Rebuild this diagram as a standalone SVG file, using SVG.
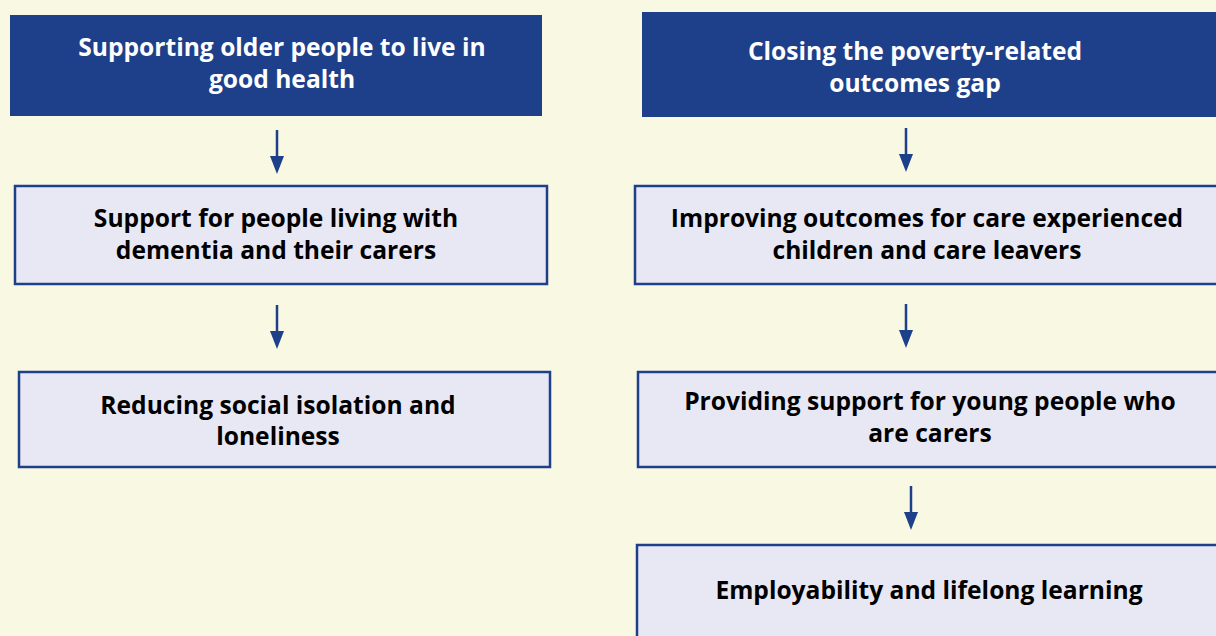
<svg xmlns="http://www.w3.org/2000/svg" width="1216" height="636" viewBox="0 0 1216 636">
<defs>
<style>
.bg{fill:#F9F8E2}
.hdr{fill:#1E3F8A}
.box{fill:#E8E8F5;stroke:#1E3F8A;stroke-width:2.5}
.ht{fill:#FFFFFF;font-family:"Open Sans","Liberation Sans",sans-serif;font-weight:700;font-size:24.6px;text-anchor:middle}
.bt{fill:#000000;font-family:"Open Sans","Liberation Sans",sans-serif;font-weight:700;font-size:24.6px;text-anchor:middle}
.ln{stroke:#1E3F8A;stroke-width:2.5}
.hd{fill:#1E3F8A}
</style>
</defs>
<rect class="bg" x="0" y="0" width="1216" height="636"/>
<g id="connectors">
<line class="ln" x1="277" y1="130" x2="277" y2="156"/>
<path class="hd" d="M270,156 L284,156 L277,174 Z"/>
<line class="ln" x1="277" y1="305" x2="277" y2="331"/>
<path class="hd" d="M270,331 L284,331 L277,349 Z"/>
<line class="ln" x1="906" y1="128" x2="906" y2="154"/>
<path class="hd" d="M899,154 L913,154 L906,172 Z"/>
<line class="ln" x1="906" y1="304" x2="906" y2="330"/>
<path class="hd" d="M899,330 L913,330 L906,348 Z"/>
<line class="ln" x1="911" y1="486" x2="911" y2="512"/>
<path class="hd" d="M904,512 L918,512 L911,530 Z"/>
</g>
<g id="n1">
<rect class="hdr" x="10" y="15" width="532" height="101"/>
<text class="ht" x="282" y="56">Supporting older people to live in</text>
<text class="ht" x="282" y="88">good health</text>
</g>
<g id="n2">
<rect class="box" x="15" y="186" width="532" height="98"/>
<text class="bt" x="276" y="227">Support for people living with</text>
<text class="bt" x="276" y="259">dementia and their carers</text>
</g>
<g id="n3">
<rect class="box" x="19" y="372" width="531" height="95"/>
<text class="bt" x="278" y="414">Reducing social isolation and</text>
<text class="bt" x="278" y="445">loneliness</text>
</g>
<g id="n4">
<rect class="hdr" x="642" y="12" width="580" height="105"/>
<text class="ht" x="915" y="60">Closing the poverty-related</text>
<text class="ht" x="915" y="92">outcomes gap</text>
</g>
<g id="n5">
<rect class="box" x="635" y="186" width="590" height="98"/>
<text class="bt" x="927" y="227">Improving outcomes for care experienced</text>
<text class="bt" x="927" y="259">children and care leavers</text>
</g>
<g id="n6">
<rect class="box" x="638" y="372" width="590" height="95"/>
<text class="bt" x="930" y="410">Providing support for young people who</text>
<text class="bt" x="930" y="442">are carers</text>
</g>
<g id="n7">
<rect class="box" x="637" y="545" width="590" height="100"/>
<text class="bt" x="929" y="599">Employability and lifelong learning</text>
</g>
</svg>
